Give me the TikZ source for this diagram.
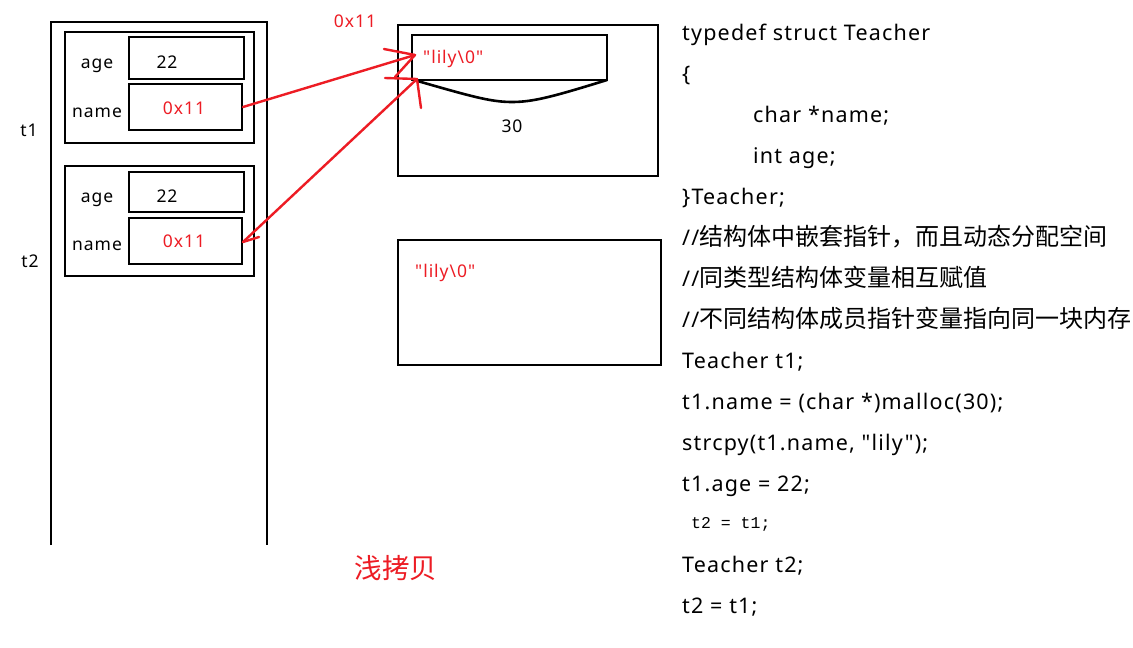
\documentclass[tikz,border=0pt]{standalone}
\usepackage{fontspec}
\setmainfont{Noto Sans}
\newfontfamily\latin[LetterSpace=5.5]{Noto Sans}
\newfontfamily\cjk{Noto Sans CJK SC}
\newfontfamily\codemono{Liberation Mono}
\definecolor{pred}{RGB}{237,28,36}
\newcommand{\zh}[1]{{\cjk\fontsize{24}{28}\selectfont #1}}
\begin{document}
\begin{tikzpicture}[x=1pt,y=-1pt,
  box/.style={draw=black,line width=2.6pt},
  lbl/.style={anchor=base,inner sep=0pt,font=\latin\fontsize{17.5}{21}\selectfont},
  rlbl/.style={lbl,text=pred},
  code/.style={anchor=base west,inner sep=0pt,font=\latin\fontsize{21.5}{26}\selectfont},
  rarrow/.style={draw=pred,line width=2.4pt,line cap=round,line join=round}]
\useasboundingbox[fill=white] (0,0) rectangle (1133,648);
% stack frame
\draw[box] (51,545) -- (51,22) -- (267,22) -- (267,545);
% t1 struct
\draw[box] (65,32) rectangle (254,143);
\draw[box] (129,37) rectangle (244,79);
\draw[box] (129,84) rectangle (242,130);
\coordinate (t1name) at (243,107);
% t2 struct
\draw[box] (65,166) rectangle (254,276);
\draw[box] (129,172) rectangle (244,212);
\draw[box] (129,218) rectangle (242,264);
\coordinate (t2name) at (243,242);
% labels left
\node[lbl] (la1) at (97,68) {age};
\node[lbl] (v1) at (167,68) {22};
\node[lbl] (ln1) at (97,117) {name};
\node[rlbl] (p1) at (184,114) {0x11};
\node[lbl] (tt1) at (29,136) {t1};
\node[lbl] (la2) at (97,202) {age};
\node[lbl] (v2) at (167,202) {22};
\node[lbl] (ln2) at (97,250) {name};
\node[rlbl] (p2) at (184,247) {0x11};
\node[lbl] (tt2) at (30,267) {t2};
% heap boxes
\draw[box] (398,25) rectangle (658,176);
\draw[box] (412,35) rectangle (607,80);
\draw[line width=2.6pt,line join=round] (414,80) .. controls (470,96) and (490,102) .. (512,102) .. controls (534,102) and (555,96) .. (607,80);
\node[lbl] (n30) at (512,132) {30};
\node[rlbl,anchor=base west] (s1) at (423,63) {"lily\textbackslash 0"};
\node[rlbl] (addr) at (355,27) {0x11};
\draw[box] (398,240) rectangle (661,365);
\node[rlbl,anchor=base west] (s2) at (415,277) {"lily\textbackslash 0"};
\coordinate (tip1) at (415,55);
\coordinate (tip2) at (417,79);
% arrows
\draw[rarrow] (t1name) -- (tip1);
\draw[rarrow] (384,49) -- (tip1) -- (395,77);
\draw[rarrow] (t2name) -- (tip2);
\draw[rarrow] (385,78) -- (tip2) -- (421,108);
\draw[rarrow] (t2name) -- (259,237);
% caption
\node[anchor=base,inner sep=0pt,text=pred,font=\cjk\fontsize{27.5}{31}\selectfont] (cap) at (396,578) {浅拷贝};
% code
\node[code] (c1) at (682,40) {typedef struct Teacher};
\node[code] (c2) at (682,81) {\{};
\node[code] (c3) at (753,122) {char *name;};
\node[code] (c4) at (753,163) {int age;};
\node[code] (c5) at (682,204) {\}Teacher;};
\node[code] (c6) at (682,245) {//\zh{结构体中嵌套指针，而且动态分配空间}};
\node[code] (c7) at (682,286) {//\zh{同类型结构体变量相互赋值}};
\node[code] (c8) at (682,327) {//\zh{不同结构体成员指针变量指向同一块内存}};
\node[code] (c9) at (682,368) {Teacher t1;};
\node[code] (c10) at (682,409) {t1.name = (char *)malloc(30);};
\node[code] (c11) at (682,450) {strcpy(t1.name, "lily");};
\node[code] (c12) at (682,491) {t1.age = 22;};
\node[anchor=base west,inner sep=0pt,font=\codemono\fontsize{16.5}{19}\selectfont] (c13) at (691,528) {t2 = t1;};
\node[code] (c14) at (682,572) {Teacher t2;};
\node[code] (c15) at (682,613) {t2 = t1;};
\end{tikzpicture}
\end{document}
